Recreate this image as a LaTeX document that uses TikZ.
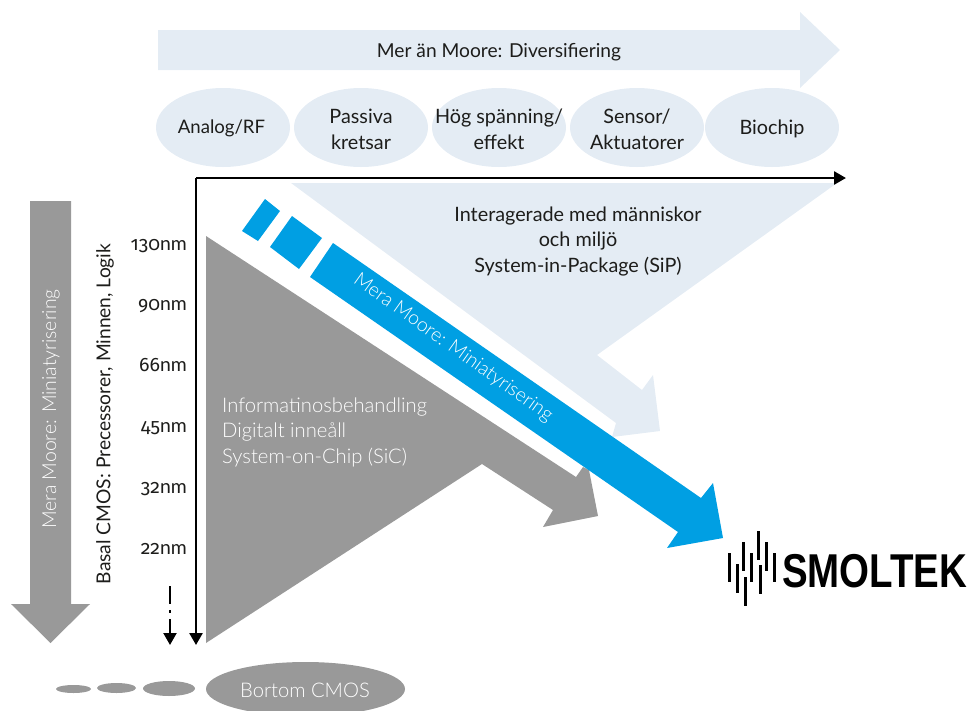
\documentclass[tikz,border=0pt]{standalone}
\usepackage{fontspec}
\setmainfont{Lato}
\newfontfamily\lightfont{Lato Light}
\newfontfamily\logofont[Scale=1]{Liberation Sans}
\newfontfamily\digitfont[Numbers=OldStyle,Scale=1.0]{Fira Sans}
\newcommand{\osd}[1]{{\digitfont #1}}
\usetikzlibrary{arrows.meta,shapes.geometric}
\definecolor{pale}{HTML}{E4ECF4}
\definecolor{stone}{HTML}{999999}
\definecolor{sky}{HTML}{009FE3}
\definecolor{ink}{HTML}{1D1D1B}
\tikzset{
 x=1pt,y=-1pt,
 lab/.style={font=\fontsize{19.8}{25.5}\selectfont,text=ink,inner sep=0pt,align=center},
 scalelab/.style={font=\fontsize{19.4}{25.5}\selectfont,text=ink,inner sep=0pt,anchor=base east},
 pill/.style={fill=pale,draw=none,ellipse,inner sep=0pt,minimum width=134pt,minimum height=79pt},
 graypill/.style={fill=stone,draw=none,ellipse,inner sep=0pt},
 whitelab/.style={font=\lightfont\fontsize{20.2}{25.5}\selectfont,text=white,inner sep=0pt},
 axis/.style={draw=black,line width=2.6pt,-{Triangle[length=12pt,width=13pt]}},
 bar/.style={draw=black,line width=3pt},
}
\begin{document}
\begin{tikzpicture}
\useasboundingbox (0,0) rectangle (967,710);
\clip (0,0) rectangle (967,710);
% top arrow
\fill[pale] (158,30) -- (800,30) -- (800,12) -- (840,50) -- (800,88) -- (800,70) -- (158,70) -- cycle;
\node[lab,font=\fontsize{19.2}{25.5}\selectfont] (topt) at (499,52) {Mer än Moore: Diversifiering};
% pills
\node[pill] (p1) at (223,127.5) {};
\node[pill] (p2) at (361,127.5) {};
\node[pill] (p3) at (499,127.5) {};
\node[pill] (p4) at (637,127.5) {};
\node[pill] (p5) at (772,127.5) {};
\node[lab,font=\fontsize{18.6}{25.5}\selectfont] (t1) at (221.5,128) {Analog/RF};
\node[lab] (t2) at (361,129.5) {Passiva\\kretsar};
\node[lab] (t3) at (499,129.5) {Hög spänning/\\effekt};
\node[lab] (t4) at (637,129.5) {Sensor/\\Aktuatorer};
\node[lab] (t5) at (772,129) {Biochip};
% pale wedge
\fill[pale] (291,183) -- (837,183) -- (597,355) -- (642,390) -- (653,375) -- (660,431) -- (612,437) -- (616,423) -- cycle;
\node[lab] (sip) at (578,241.5) {Interagerade med människor\\och miljö\\System-in-Package (SiP)};
% gray wedge
\fill[stone] (206,236) -- (576,477) -- (583,467) -- (589,470) -- (598,516) -- (543,527) -- (553,510) -- (482,464) -- (206,643) -- cycle;
\node[whitelab,align=left,anchor=west] (soc) at (222,432) {Informatinosbehandling\\Digitalt inneåll\\System-on-Chip (SiC)};
% blue arrow
\fill[sky] (265,199) -- (280,211) -- (258,241) -- (242,231) -- cycle;
\fill[sky] (292,216) -- (322,238) -- (299,269) -- (270,247) -- cycle;
\fill[sky] (333,243) -- (701,498) -- (713,483) -- (723,538) -- (667,548) -- (678,532) -- (310,277) -- cycle;
\node[whitelab,rotate=-35.5,font=\lightfont\fontsize{19.4}{25.5}\selectfont] (more) at (453,348) {Mera Moore: Miniatyrisering};
% axes
\coordinate (origin) at (196,178);
\coordinate (xend) at (846,178);
\coordinate (yend) at (196,645);
\draw[axis] (origin) -- (xend);
\draw[axis] (origin) -- (yend);
% left arrow
\fill[stone] (30,201) -- (71,201) -- (71,604) -- (90,604) -- (50.5,643) -- (11,604) -- (30,604) -- cycle;
\node[whitelab,rotate=90,font=\lightfont\fontsize{19.4}{25.5}\selectfont] (mm) at (51,409) {Mera Moore: Miniatyrisering};
\node[lab,rotate=90,font=\fontsize{19.2}{25.5}\selectfont] (basal) at (105,414) {Basal CMOS: Precessorer, Minnen, Logik};
% scale
\node[scalelab] (n1) at (187,250) {\osd{130}nm};
\node[scalelab] (n2) at (187,310) {\osd{90}nm};
\node[scalelab] (n3) at (187,371) {\osd{66}nm};
\node[scalelab] (n4) at (187,432) {\osd{45}nm};
\node[scalelab] (n5) at (187,493) {\osd{32}nm};
\node[scalelab] (n6) at (187,554) {\osd{22}nm};
% dashed arrow
\coordinate (d0) at (170,586);
\coordinate (d1) at (170,604);
\coordinate (d2) at (170,610);
\coordinate (d3) at (170,612.5);
\coordinate (d4) at (170,619);
\coordinate (d5) at (170,645);
\draw[line width=2.2pt] (d0) -- (d1);
\draw[line width=2.2pt] (d2) -- (d3);
\draw[axis,line width=2.2pt] (d4) -- (d5);
% bottom ellipses
\node[graypill,minimum width=35pt,minimum height=8pt] (e1) at (73.5,689) {};
\node[graypill,minimum width=39pt,minimum height=10pt] (e2) at (116.5,688) {};
\node[graypill,minimum width=52pt,minimum height=15pt] (e3) at (169,688.5) {};
\node[graypill,minimum width=199pt,minimum height=54pt] (e4) at (305.5,689) {};
\node[whitelab] (beyond) at (305,690) {Bortom CMOS};
% logo
\foreach \bx/\by/\bz in {729/553/582,737/564/593,743/542/571,745/577/606,751/553/582,758/531/560,760/565/594,766/542/571,774/553/582}
  \draw[bar] (\bx,\by) -- (\bx,\bz);
\node[inner sep=0pt,anchor=base west,xscale=0.81,font=\logofont\bfseries\fontsize{47.5}{48}\selectfont,text=black] (logo) at (782,587) {SMOLTEK};
\end{tikzpicture}
\end{document}
